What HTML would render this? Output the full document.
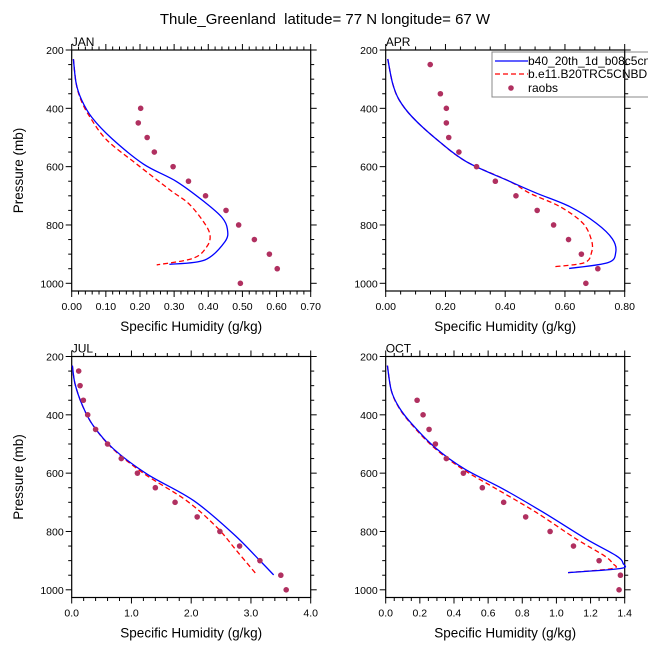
<!DOCTYPE html>
<html><head><meta charset="utf-8">
<style>
body{margin:0;background:#fff;}
svg{display:block;font-family:"Liberation Sans",Arial,sans-serif;}
</style></head>
<body>
<svg id="chart" width="648" height="649" viewBox="0 0 648 649" xmlns="http://www.w3.org/2000/svg">
<text x="325" y="24" font-size="15" text-anchor="middle" style="white-space:pre">Thule_Greenland  latitude= 77 N longitude= 67 W</text>
</svg>
<script>
// ---- data ----
const janModelP = [231,314,371,431,503,591,651,722,774,814,857,920,935];
const janBlue   = [0.005,0.013,0.029,0.059,0.117,0.21,0.307,0.39,0.44,0.456,0.449,0.39,0.286];
const janRedP   = [231,314,371,431,509,591,680,726,789,834,874,914,937];
const janRed    = [0.005,0.013,0.027,0.054,0.103,0.19,0.288,0.342,0.386,0.405,0.396,0.356,0.249];
const janObsP   = [400,450,500,550,600,650,700,750,800,850,900,950,1000];
const janObs    = [0.202,0.195,0.221,0.242,0.297,0.342,0.392,0.452,0.489,0.535,0.579,0.602,0.494];

const aprModelP = [231,314,371,431,506,583,651,691,737,794,848,894,929,949];
const aprBlue   = [0.007,0.023,0.045,0.09,0.17,0.27,0.416,0.505,0.616,0.705,0.759,0.77,0.744,0.614];
const aprRedP   = [231,314,371,431,506,583,651,691,737,794,853,894,929,943];
const aprRed    = [0.007,0.023,0.045,0.09,0.17,0.27,0.416,0.482,0.583,0.66,0.689,0.689,0.666,0.566];
const aprObsP   = [250,350,400,450,500,550,600,650,700,750,800,850,900,950,1000];
const aprObs    = [0.149,0.183,0.203,0.203,0.211,0.245,0.304,0.367,0.436,0.507,0.562,0.612,0.655,0.71,0.67];

const julModelP = [231,294,368,437,517,603,694,809,900,949];
const julBlue   = [0.011,0.056,0.18,0.36,0.70,1.26,2.04,2.71,3.15,3.38];
const julRedP   = [231,294,368,437,517,603,694,786,866,949];
const julRed    = [0.011,0.056,0.18,0.36,0.69,1.22,1.92,2.43,2.76,3.10];
const julObsP   = [250,300,350,400,450,500,550,600,650,700,750,800,850,900,950,1000];
const julObs    = [0.117,0.14,0.195,0.268,0.40,0.60,0.83,1.10,1.40,1.73,2.10,2.48,2.81,3.15,3.50,3.59];

const octModelP = [231,317,374,429,511,586,654,734,826,883,909,927,941];
const octBlue   = [0.01,0.033,0.078,0.15,0.287,0.463,0.687,0.922,1.175,1.35,1.39,1.375,1.068];
const octRedP   = [231,317,374,429,511,586,654,734,826,883,909,927,941];
const octRed    = [0.01,0.033,0.076,0.146,0.28,0.45,0.648,0.88,1.117,1.28,1.328,1.33,1.068];
const octObsP   = [350,400,450,500,550,600,650,700,750,800,850,900,950,1000];
const octObs    = [0.184,0.219,0.254,0.291,0.355,0.455,0.566,0.691,0.82,0.963,1.10,1.25,1.375,1.367];

const yTickLabels = ["200","400","600","800","1000"];
const janXTicks = ["0.00","0.10","0.20","0.30","0.40","0.50","0.60","0.70"];
const aprXTicks = ["0.00","0.20","0.40","0.60","0.80"];
const julXTicks = ["0.0","1.0","2.0","3.0","4.0"];
const octXTicks = ["0.0","0.2","0.4","0.6","0.8","1.0","1.2","1.4"];

// ---- drawing ----
const svg = document.getElementById('chart');
const NS = 'http://www.w3.org/2000/svg';
function mk(tag, attrs, parent){
  const e = document.createElementNS(NS, tag);
  for (const k in attrs) e.setAttribute(k, attrs[k]);
  (parent||svg).appendChild(e);
  return e;
}
function smoothPath(pts){
  let d = 'M' + pts[0][0] + ',' + pts[0][1];
  for (let i = 0; i < pts.length - 1; i++) {
    const p0 = pts[Math.max(i-1,0)], p1 = pts[i], p2 = pts[i+1], p3 = pts[Math.min(i+2,pts.length-1)];
    const t = 0.5/3;
    const c1 = [p1[0] + (p2[0]-p0[0])*t, p1[1] + (p2[1]-p0[1])*t];
    const c2 = [p2[0] - (p3[0]-p1[0])*t, p2[1] - (p3[1]-p1[1])*t];
    d += ' C' + c1[0] + ',' + c1[1] + ' ' + c2[0] + ',' + c2[1] + ' ' + p2[0] + ',' + p2[1];
  }
  return d;
}
// legend (drawn first so the APR frame shows through)
const lg = mk('g', {});


mk('rect', {x:492, y:52, width:170, height:45, fill:'#fff', stroke:'#888', 'stroke-width':1}, lg);
mk('line', {x1:495, x2:528, y1:61, y2:61, stroke:'#0000ff', 'stroke-width':1.3}, lg);
mk('line', {x1:495, x2:528, y1:74, y2:74, stroke:'#ff0000', 'stroke-width':1.3, 'stroke-dasharray':'5,3'}, lg);
mk('circle', {cx:511, cy:88, r:2.8, fill:'#b03060'}, lg);
[['b40_20th_1d_b08c5cn','legend-entry-b40',65],['b.e11.B20TRC5CNBDRD','legend-entry-b-e11',78],['raobs','legend-entry-raobs',92]].forEach(a=>{
  const t = mk('text', {x:528, y:a[2], 'font-size':12}, lg);
  t.textContent = a[0];
  
  
});

const panels = [
  {name:'jan', label:'JAN', L:71.7, T:50, xmax:0.7, ticks:janXTicks, minor:0.02, bp:janModelP, b:janBlue, rp:janRedP, r:janRed, op:janObsP, o:janObs, ylab:true},
  {name:'apr', label:'APR', L:385.7, T:50, xmax:0.8, ticks:aprXTicks, minor:0.05, bp:aprModelP, b:aprBlue, rp:aprRedP, r:aprRed, op:aprObsP, o:aprObs, ylab:false},
  {name:'jul', label:'JUL', L:71.7, T:356.5, xmax:4.0, ticks:julXTicks, minor:0.2, bp:julModelP, b:julBlue, rp:julRedP, r:julRed, op:julObsP, o:julObs, ylab:true},
  {name:'oct', label:'OCT', L:385.7, T:356.5, xmax:1.4, ticks:octXTicks, minor:0.05, bp:octModelP, b:octBlue, rp:octRedP, r:octRed, op:octObsP, o:octObs, ylab:false}
];
const W = 239, H = 241, PY = 233.3/800;
panels.forEach(p=>{
  const g = mk('g', {});
  
  
  const xs = v => p.L + v / p.xmax * W;
  const ys = v => p.T + (v - 200) * PY;
  const B = p.T + H, R = p.L + W;
  const fr = mk('rect', {x:p.L, y:p.T, width:W, height:H, fill:'none', stroke:'#000', 'stroke-width':1.2}, g);
  
  
  for (let v = 200; v <= 1000; v += 50) {
    const y = ys(v), major = (v % 200 === 0), len = major ? 6 : 3.5;
    mk('line', {x1:p.L-len, x2:p.L, y1:y, y2:y, stroke:'#000', 'stroke-width':1}, g);
    mk('line', {x1:R, x2:R+len, y1:y, y2:y, stroke:'#000', 'stroke-width':1}, g);
  }
  yTickLabels.forEach((t,i)=>{
    const tx = mk('text', {x:p.L-8, y:ys(+t)+4, 'font-size':10.5, 'text-anchor':'end'}, g);
    tx.textContent = t;
    
    
  });
  const step = p.xmax / (p.ticks.length - 1);
  const nMinor = Math.round(p.xmax / p.minor);
  for (let i = 0; i <= nMinor; i++) {
    const v = i * p.minor, x = xs(v);
    const major = Math.abs(v/step - Math.round(v/step)) < 1e-6, len = major ? 6 : 3.5;
    mk('line', {x1:x, x2:x, y1:p.T-len, y2:p.T, stroke:'#000', 'stroke-width':1}, g);
    mk('line', {x1:x, x2:x, y1:B, y2:B+len, stroke:'#000', 'stroke-width':1}, g);
  }
  p.ticks.forEach((t,i)=>{
    const tx = mk('text', {x:xs(i*step), y:B+19, 'font-size':10.5, 'text-anchor':'middle'}, g);
    tx.textContent = t;
    
    
  });
  const xt = mk('text', {x:p.L+W/2, y:B+40, 'font-size':13.5, 'text-anchor':'middle'}, g);
  xt.textContent = 'Specific Humidity (g/kg)';
  
  
  if (p.ylab) {
    const cy = p.T + H/2;
    const yt = mk('text', {x:23, y:cy, 'font-size':13.5, 'text-anchor':'middle', transform:'rotate(-90 23 '+cy+')'}, g);
    yt.textContent = 'Pressure (mb)';
    
    
  }
  const pl = mk('text', {x:p.L, y:p.T-4, 'font-size':12}, g);
  pl.textContent = p.label;
  
  
  const rl = mk('path', {d:smoothPath(p.r.map((v,i)=>[xs(v), ys(p.rp[i])])), fill:'none', stroke:'#ff0000', 'stroke-width':1.3, 'stroke-dasharray':'5,3'}, g);
  
  
  const bl = mk('path', {d:smoothPath(p.b.map((v,i)=>[xs(v), ys(p.bp[i])])), fill:'none', stroke:'#0000ff', 'stroke-width':1.3}, g);
  
  
  p.o.forEach((v,i)=>{
    const c = mk('circle', {cx:xs(v), cy:ys(p.op[i]), r:2.8, fill:'#b03060'}, g);
    
    
  });
});
</script>
</body></html>
